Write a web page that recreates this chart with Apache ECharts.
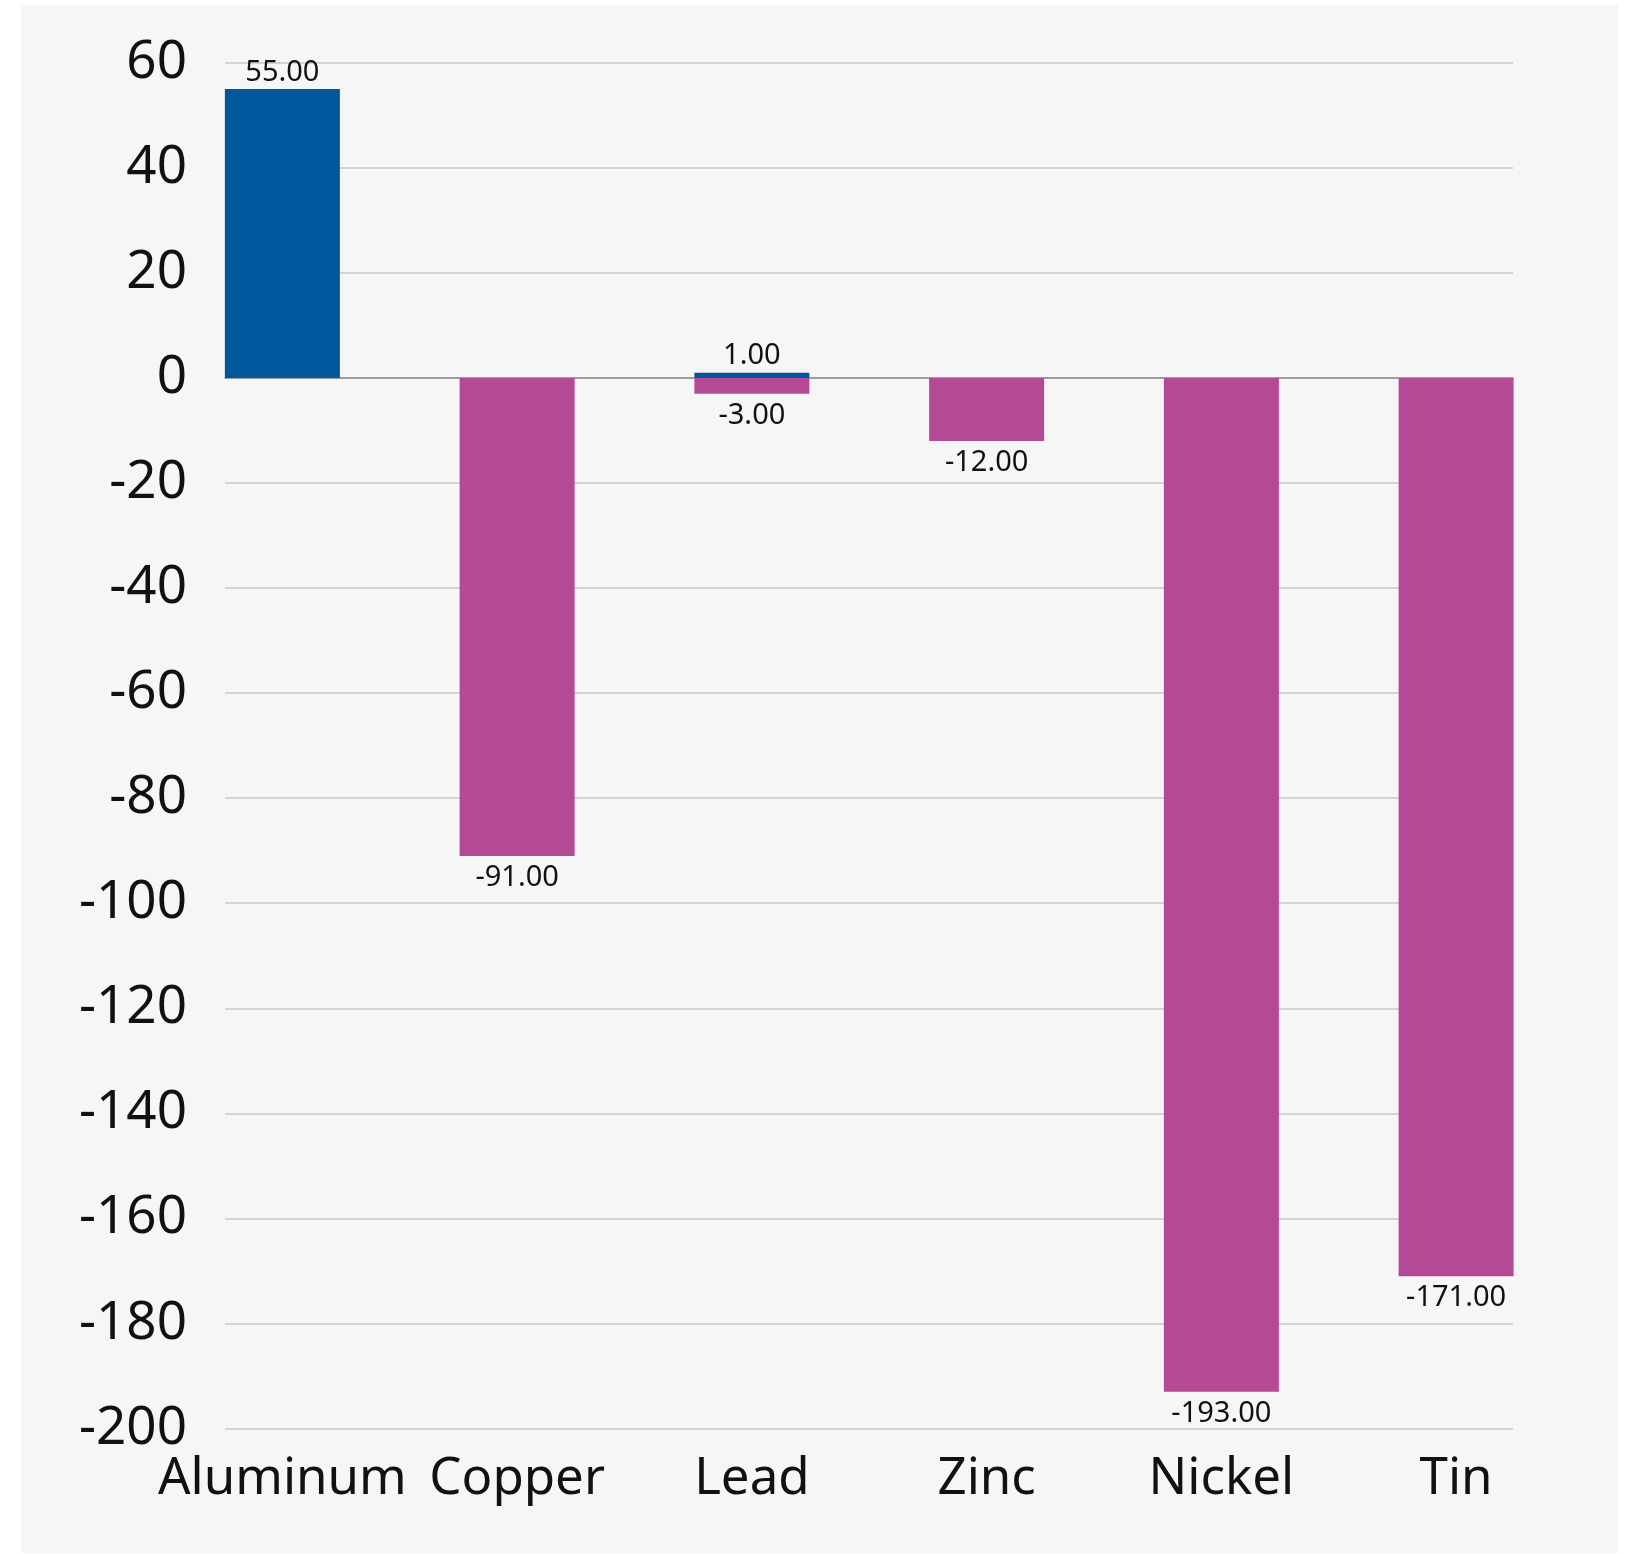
<!DOCTYPE html>
<html>
<head>
<meta charset="utf-8">
<script src="https://cdn.jsdelivr.net/npm/echarts@6/dist/echarts.min.js"></script>
<style>
html,body{margin:0;padding:0;background:#ffffff;}
#chart{width:1630px;height:1554px;}
</style>
</head>
<body>
<div id="chart"></div>
<script>
const categories = ['Aluminum', 'Copper', 'Lead', 'Zinc', 'Nickel', 'Tin'];
const positiveValues = [55, null, 1, null, null, null];
const negativeValues = [null, -91, -3, -12, -193, -171];
const yMin = -200, yMax = 60, yInterval = 20;

const FONT = '"Noto Sans", sans-serif';
const chart = echarts.init(document.getElementById('chart'), null, {renderer: 'canvas'});
const labelStyle = {
  show: true,
  fontFamily: FONT,
  fontSize: 29,
  color: '#111111',
  formatter: p => p.value == null ? '' : Number(p.value).toFixed(2)
};
chart.setOption({
  backgroundColor: '#ffffff',
  animation: false,
  graphic: [{
    type: 'rect', z: -100, silent: true,
    shape: {x: 21, y: 5, width: 1597, height: 1548},
    style: {fill: '#f6f6f6'}
  }],
  grid: [
    {left: 225, right: 117, top: 62.7, bottom: 125.5},
    {left: 165, right: 56.5, top: 62.7, bottom: 125.5}
  ],
  xAxis: [
    {
      type: 'category', gridIndex: 0, data: categories,
      axisLine: {show: true, onZero: true, lineStyle: {color: '#8a8a8a', width: 1.5}},
      axisTick: {show: false}, axisLabel: {show: false}, splitLine: {show: false}
    },
    {
      type: 'category', gridIndex: 1, data: categories,
      axisLine: {show: false}, axisTick: {show: false}, splitLine: {show: false},
      axisLabel: {fontFamily: FONT, fontSize: 51, color: '#111111', margin: 25, interval: 0, hideOverlap: false}
    }
  ],
  yAxis: [
    {
      type: 'value', gridIndex: 0, min: yMin, max: yMax, interval: yInterval,
      axisLine: {show: false}, axisTick: {show: false},
      axisLabel: {fontFamily: FONT, fontSize: 53, color: '#111111', margin: 38},
      splitLine: {show: true, lineStyle: {color: '#c8c8c8', width: 1.5}}
    },
    {
      type: 'value', gridIndex: 1, min: yMin, max: yMax, interval: yInterval,
      show: false, splitLine: {show: false}
    }
  ],
  series: [
    {
      name: 'Increase', type: 'bar', xAxisIndex: 1, yAxisIndex: 1,
      data: positiveValues, barWidth: 115, barGap: '-100%',
      itemStyle: {color: '#00589c'},
      label: Object.assign({position: 'top', distance: 2}, labelStyle)
    },
    {
      name: 'Decrease', type: 'bar', xAxisIndex: 1, yAxisIndex: 1,
      data: negativeValues, barWidth: 115, barGap: '-100%',
      itemStyle: {color: '#b44a96'},
      label: Object.assign({position: 'bottom', distance: 7.5}, labelStyle)
    }
  ]
});
</script>
</body>
</html>
